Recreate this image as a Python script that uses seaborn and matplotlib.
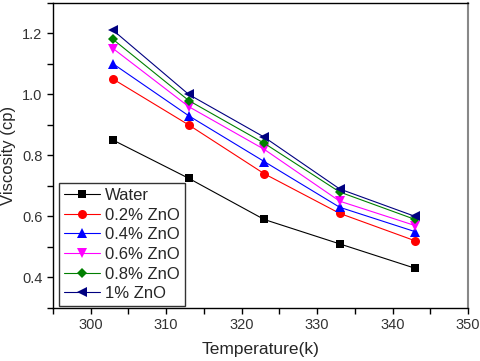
import pandas as pd
import matplotlib.pyplot as plt
import seaborn as sns
from matplotlib.ticker import MultipleLocator

temperature = [303, 313, 323, 333, 343]
water = [0.85, 0.725, 0.59, 0.51, 0.43]
zno_02 = [1.05, 0.90, 0.74, 0.61, 0.52]
zno_04 = [1.10, 0.93, 0.78, 0.63, 0.55]
zno_06 = [1.15, 0.96, 0.82, 0.65, 0.57]
zno_08 = [1.18, 0.98, 0.84, 0.68, 0.59]
zno_10 = [1.21, 1.00, 0.86, 0.69, 0.60]

labels = ["Water", "0.2% ZnO", "0.4% ZnO", "0.6% ZnO", "0.8% ZnO", "1% ZnO"]
series = [water, zno_02, zno_04, zno_06, zno_08, zno_10]
colors = ["black", "red", "blue", "magenta", "green", "navy"]
markers = ["s", "o", "^", "v", "D", "<"]
sizes = [6, 6.5, 7, 7, 5.5, 7]

rows = []
for lab, vals in zip(labels, series):
    for t, v in zip(temperature, vals):
        rows.append({"Temperature": t, "Viscosity": v, "Sample": lab})
df = pd.DataFrame(rows)

sns.set_style("white")
plt.rcParams['font.family'] = ['Liberation Sans', 'DejaVu Sans']

fig = plt.figure(figsize=(4.8, 3.61), dpi=100)
ax = fig.add_axes([0.110, 0.147, 0.865, 0.845])

for lab, c, m, s in zip(labels, colors, markers, sizes):
    d = df[df["Sample"] == lab]
    sns.lineplot(data=d, x="Temperature", y="Viscosity", ax=ax, color=c,
                 marker=m, markersize=s, markeredgewidth=0, linewidth=0.8,
                 alpha=1, label=lab)
    ax.lines[-1].set_markerfacecolor(c)

ax.set_xlim(295, 350)
ax.set_ylim(0.3, 1.3)
ax.xaxis.set_major_locator(MultipleLocator(10))
ax.xaxis.set_minor_locator(MultipleLocator(5))
ax.yaxis.set_major_locator(MultipleLocator(0.2))
ax.yaxis.set_minor_locator(MultipleLocator(0.1))
ax.yaxis.set_major_formatter(plt.FuncFormatter(lambda v, p: f"{v:.1f}"))
ax.tick_params(which="both", direction="out", length=4, width=1, color="black",
               bottom=True, left=True, top=False, right=False)
ax.tick_params(labelsize=10.5, labelcolor="#333333")

for sp in ax.spines.values():
    sp.set_color("black")
    sp.set_linewidth(1)
ax.spines["right"].set_color("#888888")
ax.spines["right"].set_linewidth(1.5)

ax.set_xlabel("Temperature(k)", fontsize=12.5, labelpad=7)
ax.set_ylabel("Viscosity (cp)", fontsize=12, labelpad=4)

leg = ax.legend(loc="lower left", bbox_to_anchor=(0.012, 0.0), fontsize=12,
                frameon=True, fancybox=False, borderpad=0.3, labelspacing=0.28,
                handlelength=2.15, handletextpad=0.3, borderaxespad=0.1)
leg.get_frame().set_edgecolor("black")
leg.get_frame().set_linewidth(1)

fig.savefig("out.png", dpi=100)
